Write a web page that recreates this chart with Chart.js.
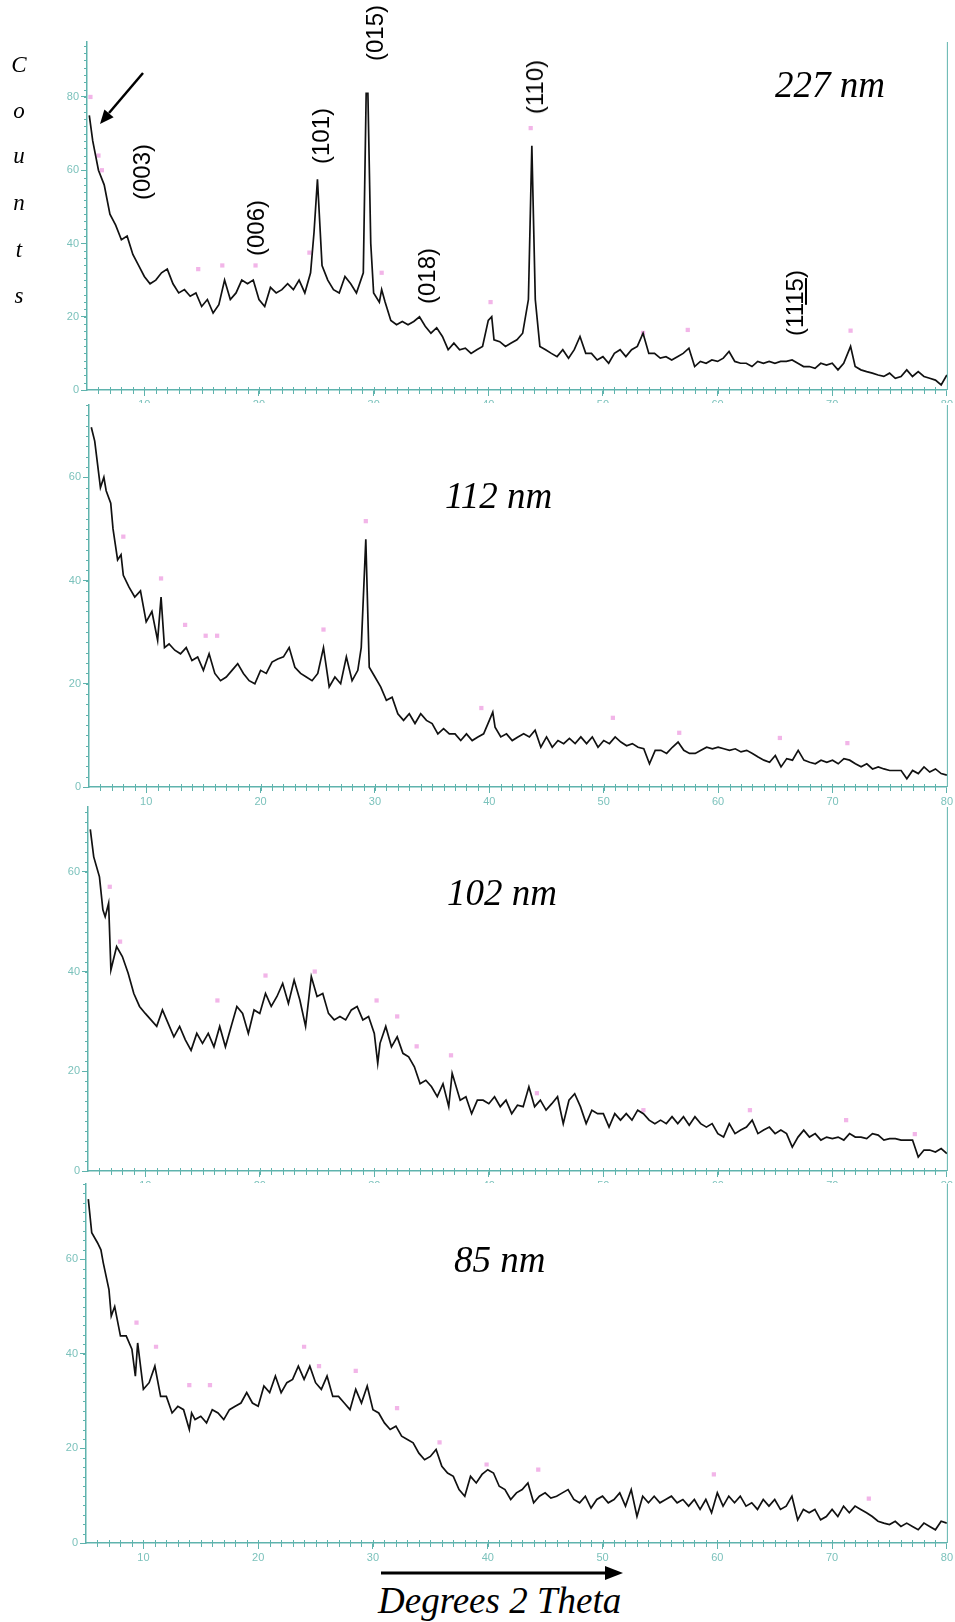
<!DOCTYPE html>
<html>
<head>
<meta charset="utf-8">
<script src="https://cdn.jsdelivr.net/npm/chart.js@4.4.1/dist/chart.umd.min.js"></script>
<style>
  body { margin: 0; background: #fff; }
  #page { position: relative; width: 955px; height: 1622px; overflow: hidden; background: #fff; }
  canvas { position: absolute; left: 0; }
  .serif { position: absolute; font-family: 'Liberation Serif', serif; font-style: italic; line-height: 1; white-space: nowrap; color: #000; }
  .letter { width: 20px; text-align: center; font-size: 23px; }
  .size { font-size: 37px; }
  .hkl { position: absolute; font-family: 'Liberation Sans', sans-serif; font-size: 24px; line-height: 1; white-space: nowrap; color: #000; transform: translate(-50%, -50%) rotate(-90deg); }
  svg { position: absolute; left: 0; top: 0; }
</style>
</head>
<body>
<div id="page">
  <canvas id="p1" width="955" height="403" style="top:0px"></canvas>
  <canvas id="p2" width="955" height="410" style="top:395px"></canvas>
  <canvas id="p3" width="955" height="388" style="top:795px"></canvas>
  <canvas id="p4" width="955" height="395" style="top:1175px"></canvas>

  <div class="serif letter" style="left:9px;top:53px">C</div>
  <div class="serif letter" style="left:9px;top:99px">o</div>
  <div class="serif letter" style="left:9px;top:144px">u</div>
  <div class="serif letter" style="left:9px;top:191px">n</div>
  <div class="serif letter" style="left:9px;top:238px">t</div>
  <div class="serif letter" style="left:9px;top:284px">s</div>

  <div class="serif size" style="left:775px;top:66px">227 nm</div>
  <div class="serif size" style="left:445px;top:477px">112 nm</div>
  <div class="serif size" style="left:447px;top:874px">102 nm</div>
  <div class="serif size" style="left:454px;top:1241px">85 nm</div>
  <div class="serif size" style="left:378px;top:1582px">Degrees 2 Theta</div>

  <div class="hkl" style="left:142px;top:172px">(003)</div>
  <div class="hkl" style="left:256px;top:228px">(006)</div>
  <div class="hkl" style="left:321px;top:136px">(101)</div>
  <div class="hkl" style="left:375px;top:33px">(015)</div>
  <div class="hkl" style="left:427px;top:276px">(018)</div>
  <div class="hkl" style="left:535px;top:87px">(110)</div>
  <div class="hkl" style="left:795px;top:303px">(11<span style="text-decoration:underline">15</span>)</div>

  <svg width="955" height="1622">
    <line x1="143" y1="73" x2="109" y2="113" stroke="#000" stroke-width="2.5"/>
    <polygon points="100,124 113.6,117.2 104.4,109.4" fill="#000"/>
    <line x1="381" y1="1573" x2="608" y2="1573" stroke="#000" stroke-width="3"/>
    <polygon points="623,1573 605,1566 605,1580" fill="#000"/>
  </svg>
</div>

<script>
const AXIS = '#5fb3ad';
const LABEL = '#7cc2bc';

// 2-theta vs counts
const counts227 = [[5.2,75],[5.5,68],[6.0,60],[6.5,56],[7.0,48],[7.5,45],[8.0,41],[8.5,42],[9.0,37],[9.5,34],[10.0,31],[10.5,29],[11.0,30],[11.5,32],[12.0,33],[12.5,29],[13.0,26.5],[13.5,27.4],[14.0,25.6],[14.5,26.5],[15.0,22.8],[15.5,24.7],[16.0,21],[16.5,23.3],[17.0,30],[17.5,24.7],[18.0,26.5],[18.5,30],[19.0,29],[19.5,30],[20.0,24.7],[20.5,22.8],[21.0,28],[21.5,26.5],[22.0,27.4],[22.5,29],[23.0,27.4],[23.5,30],[24.0,26.5],[24.5,32],[24.8,43],[25.1,57.5],[25.5,34],[26.0,30],[26.5,27.4],[27.0,26.5],[27.5,31],[28.0,29],[28.5,26.5],[29.1,32],[29.35,81],[29.5,81],[29.75,40],[30.0,26.5],[30.5,24],[30.7,27.4],[31.0,24],[31.5,19],[32.0,17.8],[32.5,18.7],[33.0,17.8],[33.5,18.7],[34.0,20],[34.5,17.4],[35.0,15.5],[35.5,17],[36.0,14.6],[36.5,11],[37.0,12.8],[37.5,11],[38.0,11.4],[38.5,10],[39.0,11],[39.5,11.9],[40.0,19],[40.3,20],[40.5,13.7],[41.0,13.2],[41.5,11.9],[42.0,12.8],[42.5,13.7],[43.0,15.5],[43.5,24.7],[43.8,66.7],[44.1,24.7],[44.5,11.9],[45.0,11],[45.5,10],[46.0,9.1],[46.5,11],[47.0,8.7],[47.5,11],[48.0,14.6],[48.5,10],[49.0,10],[49.5,8.2],[50.0,9.1],[50.5,7.3],[51.0,10],[51.5,11],[52.0,9.1],[52.5,11],[53.0,11.9],[53.5,15.5],[54.0,10],[54.5,10],[55.0,8.7],[55.5,9.1],[56.0,8.2],[56.5,9.1],[57.0,10],[57.5,11.4],[58.0,6.4],[58.5,7.8],[59.0,7.3],[59.5,8.2],[60.0,7.8],[60.5,8.7],[61.0,10.5],[61.5,7.8],[62.0,7.3],[62.5,7.3],[63.0,6.4],[63.5,7.8],[64.0,7.3],[64.5,7.8],[65.0,7.3],[65.5,7.8],[66.0,7.8],[66.5,8.2],[67.0,7.3],[67.5,6.4],[68.0,6.4],[68.5,5.9],[69.0,7.3],[69.5,6.8],[70.0,7.3],[70.5,5.5],[71.0,7.3],[71.6,11.9],[72.0,6.4],[72.5,5.5],[73.0,5],[73.5,4.6],[74.0,4.1],[74.5,3.7],[75.0,4.6],[75.5,3.2],[76.0,3.7],[76.5,5.5],[77.0,3.7],[77.5,5],[78.0,3.7],[78.5,3.2],[79.0,2.7],[79.5,1.4],[80.0,4.1]];

const counts112 = [[5.2,69.7],[5.5,67],[6.0,58],[6.3,60],[6.5,57.4],[6.9,55],[7.1,50],[7.3,47],[7.5,44],[7.8,45],[8.0,41],[8.5,38.7],[9.0,36.8],[9.5,38],[10.0,32],[10.5,34],[11.0,28.4],[11.3,36.8],[11.6,27],[12.0,27.7],[12.5,26.5],[13.0,25.8],[13.5,27],[14.0,24.5],[14.5,25.2],[15.0,22.6],[15.5,25.8],[16.0,22],[16.5,20.6],[17.0,21.3],[17.5,22.6],[18.0,23.9],[18.5,22],[19.0,20.6],[19.5,20],[20.0,22.6],[20.5,22],[21.0,24.2],[21.5,24.8],[22.0,25.2],[22.5,27],[23.0,23.2],[23.5,22],[24.0,21.3],[24.5,20.6],[25.0,22],[25.5,27],[26.0,19.4],[26.5,21.3],[27.0,20],[27.5,25.2],[28.0,20.6],[28.5,22.6],[28.8,27],[29.2,48],[29.5,23.2],[30.0,21.3],[30.5,19.4],[31.0,16.8],[31.5,17.4],[32.0,14.2],[32.5,12.9],[33.0,14.2],[33.5,12.3],[34.0,14.2],[34.5,12.9],[35.0,12.3],[35.5,10.3],[36.0,11.3],[36.5,10.3],[37.0,10.3],[37.5,9],[38.0,10.3],[38.5,9],[39.0,9.7],[39.5,10.3],[40.0,12.9],[40.3,14.5],[40.5,11.6],[41.0,9.7],[41.5,10.3],[42.0,9],[42.5,9.7],[43.0,10.3],[43.5,9.7],[44.0,11],[44.5,7.7],[45.0,9.7],[45.5,7.7],[46.0,9],[46.5,8.4],[47.0,9.4],[47.5,8.4],[48.0,9.7],[48.5,8.4],[49.0,9.7],[49.5,7.7],[50.0,9],[50.5,8.4],[51.0,9.7],[51.5,8.7],[52.0,8],[52.5,8.4],[53.0,7.7],[53.5,7.4],[54.0,4.5],[54.5,7.1],[55.0,7.1],[55.5,6.5],[56.0,7.7],[56.5,8.7],[57.0,7.1],[57.5,6.5],[58.0,6.5],[58.5,7.1],[59.0,7.7],[59.5,7.4],[60.0,7.7],[60.5,7.4],[61.0,7.1],[61.5,7.4],[62.0,6.8],[62.5,7.1],[63.0,6.5],[63.5,5.8],[64.0,5.2],[64.5,4.8],[65.0,6.1],[65.5,3.9],[66.0,5.5],[66.5,5.2],[67.0,7.1],[67.5,5.2],[68.0,4.8],[68.5,4.5],[69.0,5.2],[69.5,4.8],[70.0,5.2],[70.5,4.5],[71.0,5.5],[71.5,5.2],[72.0,4.5],[72.5,3.9],[73.0,4.5],[73.5,3.5],[74.0,3.9],[74.5,3.5],[75.0,3.2],[75.5,3.2],[76.0,3.2],[76.5,1.6],[77.0,3.2],[77.5,2.6],[78.0,3.9],[78.5,2.9],[79.0,3.5],[79.5,2.6],[80.0,2.3]];

const counts102 = [[5.2,68.5],[5.5,63],[6.0,59],[6.3,52.4],[6.5,51],[6.8,53.7],[7.0,40.3],[7.5,45],[8.0,43],[8.5,39.7],[9.0,35.6],[9.5,33],[10.0,31.6],[10.5,30.3],[11.0,29],[11.5,32.3],[12.0,29.6],[12.5,26.9],[13.0,29],[13.5,26.3],[14.0,24.2],[14.5,27.6],[15.0,25.6],[15.5,27.6],[16.0,24.9],[16.5,29],[17.0,24.9],[17.5,29],[18.0,33],[18.5,31.6],[19.0,27.6],[19.5,32.3],[20.0,31.6],[20.5,35.6],[21.0,33],[21.5,35],[22.0,37.6],[22.5,33.6],[23.0,38.3],[23.5,34.3],[24.0,29],[24.5,39],[25.0,35],[25.5,35.6],[26.0,31.6],[26.5,30.3],[27.0,31],[27.5,30.3],[28.0,32.3],[28.5,33],[29.0,30.3],[29.5,31],[30.0,27.6],[30.3,21.6],[30.5,25.6],[31.0,29],[31.5,24.9],[32.0,26.9],[32.5,23.6],[33.0,22.9],[33.5,20.9],[34.0,17.5],[34.5,18.2],[35.0,16.9],[35.5,14.9],[36.0,17.5],[36.5,12.9],[36.8,19.6],[37.5,14.2],[38.0,14.9],[38.5,11.5],[39.0,14.2],[39.5,14.2],[40.0,13.5],[40.5,14.9],[41.0,12.9],[41.5,14.2],[42.0,11.5],[42.5,13.2],[43.0,12.9],[43.5,16.9],[44.0,12.9],[44.5,14.2],[45.0,12.2],[45.5,13.5],[46.0,14.9],[46.5,9.5],[47.0,14.2],[47.5,15.5],[48.0,12.9],[48.5,9.5],[49.0,12.2],[49.5,11.5],[50.0,11.5],[50.5,8.8],[51.0,11.5],[51.5,10.2],[52.0,11.5],[52.5,10.2],[53.0,12.2],[53.5,11.5],[54.0,10.2],[54.5,9.5],[55.0,10.2],[55.5,9.5],[56.0,10.9],[56.5,9.5],[57.0,10.9],[57.5,9.2],[58.0,10.9],[58.5,9.5],[59.0,8.8],[59.5,9.5],[60.0,7.5],[60.5,6.8],[61.0,9.5],[61.5,7.5],[62.0,8.2],[62.5,8.8],[63.0,10.2],[63.5,7.5],[64.0,8.2],[64.5,8.8],[65.0,7.5],[65.5,8.2],[66.0,7.5],[66.5,4.8],[67.0,6.8],[67.5,8.2],[68.0,6.8],[68.5,7.5],[69.0,6.2],[69.5,6.8],[70.0,6.5],[70.5,6.8],[71.0,6.2],[71.5,7.5],[72.0,6.8],[72.5,6.8],[73.0,6.5],[73.5,7.5],[74.0,7.2],[74.5,6.2],[75.0,6.5],[75.5,6.5],[76.0,6.2],[76.5,6.2],[77.0,6.2],[77.5,2.8],[78.0,4.2],[78.5,4.2],[79.0,3.8],[79.5,4.5],[80.0,3.5]];

const counts85 = [[5.2,72.7],[5.5,65.6],[6.0,63.5],[6.3,62],[6.5,59.3],[7.0,53.6],[7.2,48],[7.5,50],[8.0,43.8],[8.5,43.8],[9.0,41],[9.3,35.3],[9.5,42.3],[10.0,32.5],[10.5,33.9],[11.0,37.4],[11.5,31],[12.0,31],[12.5,27.5],[13.0,28.9],[13.5,28.2],[14.0,24],[14.2,27.5],[14.5,26.1],[15.0,26.8],[15.5,25.4],[16.0,28.2],[16.5,27.5],[17.0,26.1],[17.5,28.2],[18.0,28.9],[18.5,29.6],[19.0,31.8],[19.5,29.6],[20.0,28.9],[20.5,33.2],[21.0,31.8],[21.5,35.3],[22.0,31.8],[22.5,33.9],[23.0,34.6],[23.5,37.4],[24.0,34.6],[24.5,37.4],[25.0,33.9],[25.5,32.5],[26.0,35.3],[26.5,31],[27.0,31],[27.5,29.6],[28.0,28.2],[28.5,32.5],[29.0,29.6],[29.5,33.2],[30.0,28.2],[30.5,27.5],[31.0,25.4],[31.5,24],[32.0,24.7],[32.5,22.6],[33.0,21.9],[33.5,21.2],[34.0,19],[34.5,17.6],[35.0,18.3],[35.5,19.8],[36.0,16.2],[36.5,14.8],[37.0,14.1],[37.5,11.3],[38.0,9.9],[38.5,14.1],[39.0,12.7],[39.5,14.5],[40.0,15.5],[40.5,14.8],[41.0,12],[41.5,11.3],[42.0,9.2],[42.5,10.6],[43.0,11.3],[43.5,12.7],[44.0,8.5],[44.5,9.9],[45.0,10.6],[45.5,9.5],[46.0,9.9],[46.5,10.6],[47.0,11.3],[47.5,9.2],[48.0,8.5],[48.5,9.9],[49.0,7.4],[49.5,9.2],[50.0,9.9],[50.5,8.5],[51.0,9.2],[51.5,10.6],[52.0,7.8],[52.5,11.3],[53.0,5.6],[53.5,9.9],[54.0,8.5],[54.5,9.9],[55.0,8.5],[55.5,9.2],[56.0,9.9],[56.5,8.5],[57.0,9.2],[57.5,7.8],[58.0,9.2],[58.5,7.1],[59.0,9.2],[59.5,6.4],[60.0,10.6],[60.5,7.8],[61.0,9.9],[61.5,8.5],[62.0,9.9],[62.5,7.8],[63.0,8.5],[63.5,7.1],[64.0,9.2],[64.5,7.8],[65.0,9.2],[65.5,7.1],[66.0,7.8],[66.5,9.9],[67.0,4.9],[67.5,7.1],[68.0,6.4],[68.5,7.1],[69.0,4.9],[69.5,5.6],[70.0,7.1],[70.5,5.6],[71.0,7.8],[71.5,6.4],[72.0,7.8],[72.5,7.1],[73.0,6.4],[73.5,5.6],[74.0,4.6],[74.5,4.2],[75.0,3.9],[75.5,4.6],[76.0,3.5],[76.5,4.2],[77.0,3.5],[77.5,2.8],[78.0,4.2],[78.5,3.5],[79.0,2.8],[79.5,4.6],[80.0,4.2]];

// pink peak markers of the search/match software
const marks227 = [[5.3,80],[6.0,64],[6.3,60],[14.7,33],[16.8,34],[19.7,34],[24.4,37.5],[30.7,32],[40.2,24],[43.7,71.5],[53.5,15.6],[57.4,16.4],[71.6,16.2]];
const marks112 = [[8.0,48.5],[11.3,40.4],[13.4,31.4],[15.2,29.3],[16.2,29.3],[25.5,30.5],[29.2,51.5],[39.3,15.3],[50.8,13.4],[56.6,10.5],[65.4,9.5],[71.3,8.5]];
const marks102 = [[6.9,57],[7.8,46],[16.3,34.2],[20.5,39.2],[24.8,40],[30.2,34.2],[32.0,31],[33.7,25],[36.7,23.2],[44.2,15.6],[53.5,12.2],[62.8,12.2],[71.2,10.2],[77.2,7.4]];
const marks85 = [[9.4,46.6],[11.1,41.5],[14.0,33.4],[15.8,33.4],[24.0,41.5],[25.3,37.4],[28.5,36.4],[32.1,28.5],[35.8,21.3],[39.9,16.6],[44.4,15.5],[59.7,14.5],[73.2,9.4]];

const xRange = [5, 80];
const yMaxes = [95, 74, 73, 76];

// minor ticks every 2 counts / 1 degree, plus the right frame line
const axisExtras = {
  id: 'axisExtras',
  afterDraw(chart) {
    const { ctx, chartArea: a, scales: { x, y } } = chart;
    ctx.save();
    ctx.strokeStyle = AXIS;
    ctx.lineWidth = 1;
    ctx.beginPath();
    ctx.moveTo(a.right + 0.5, a.top);
    ctx.lineTo(a.right + 0.5, a.bottom);
    for (let v = 0; v <= y.max; v += 2) {
      const py = Math.round(y.getPixelForValue(v)) + 0.5;
      ctx.moveTo(a.left - 3, py);
      ctx.lineTo(a.left, py);
    }
    for (let d = 6; d < 80; d++) {
      const px = Math.round(x.getPixelForValue(d)) + 0.5;
      ctx.moveTo(px, a.bottom - 3);
      ctx.lineTo(px, a.bottom + 4);
    }
    ctx.stroke();
    ctx.restore();
  }
};

function makePanel(id, line, marks, yMax, left, padTop, axisH) {
  const ctx = document.getElementById(id).getContext('2d');
  return new Chart(ctx, {
    type: 'line',
    data: {
      datasets: [{
        data: line,
        borderColor: '#111',
        borderWidth: 1.7,
        pointRadius: 0,
        tension: 0
      }, {
        type: 'scatter',
        data: marks,
        pointStyle: 'rect',
        pointRadius: 3,
        backgroundColor: 'rgba(236,150,222,0.7)',
        borderWidth: 0
      }]
    },
    options: {
      responsive: false,
      animation: false,
      layout: { padding: { left: 0, right: 955 - 948, top: padTop, bottom: 0 } },
      plugins: { legend: { display: false }, tooltip: { enabled: false } },
      scales: {
        x: {
          type: 'linear',
          min: xRange[0],
          max: xRange[1],
          afterFit: s => { s.height = axisH; },
          border: { color: AXIS, width: 1.5 },
          grid: { drawOnChartArea: false, color: AXIS, tickLength: 6 },
          ticks: { stepSize: 10, includeBounds: false, autoSkip: false, maxRotation: 0, padding: 2, color: LABEL, font: { family: 'Liberation Sans', size: 11 } }
        },
        y: {
          type: 'linear',
          min: 0,
          max: yMax,
          afterFit: s => { s.width = left; },
          border: { color: AXIS, width: 1.5 },
          grid: { drawOnChartArea: false, color: AXIS, tickLength: 6 },
          ticks: { stepSize: 20, includeBounds: false, padding: 2, color: LABEL, font: { family: 'Liberation Sans', size: 11 } }
        }
      }
    },
    plugins: [axisExtras]
  });
}

makePanel('p1', counts227, marks227, yMaxes[0], 87, 42, 13);
makePanel('p2', counts112, marks112, yMaxes[1], 89, 10, 18);
makePanel('p3', counts102, marks102, yMaxes[2], 88, 12, 12);
makePanel('p4', counts85, marks85, yMaxes[3], 86, 8, 27);
</script>
</body>
</html>
